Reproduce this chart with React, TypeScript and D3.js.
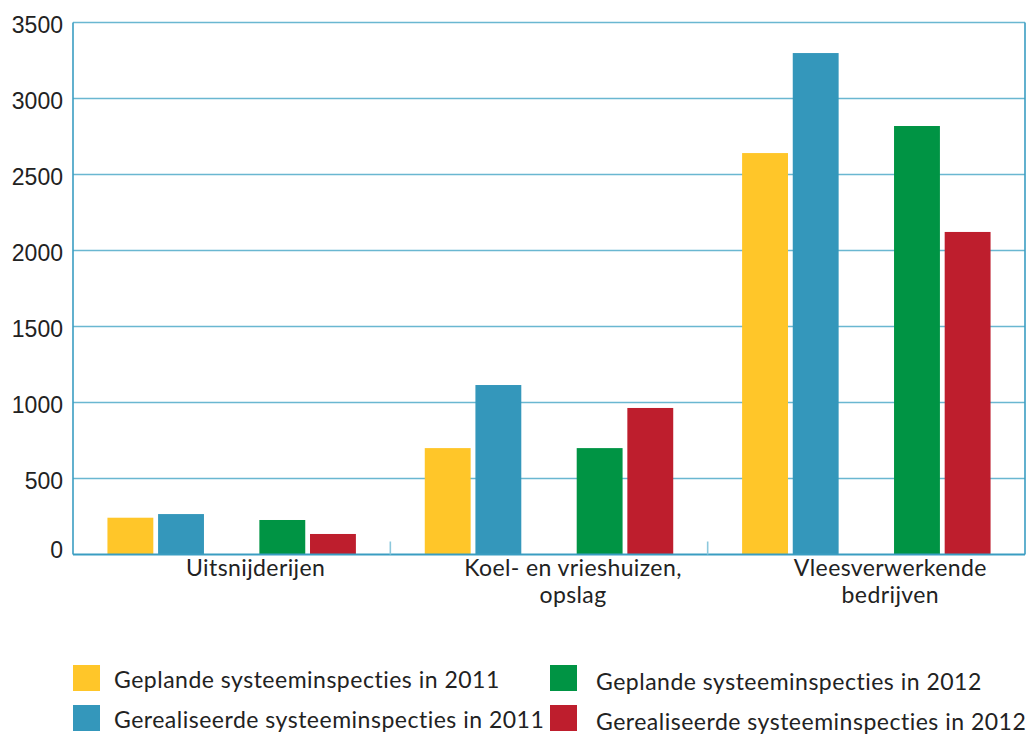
import React from "react";
import * as d3 from "d3";

const categories: string[][] = [
  ["Uitsnijderijen"],
  ["Koel- en vrieshuizen,", "opslag"],
  ["Vleesverwerkende", "bedrijven"],
];
const gepland2011 = [242, 700, 2641];
const gerealiseerd2011 = [266, 1115, 3299];
const gepland2012 = [227, 700, 2819];
const gerealiseerd2012 = [135, 964, 2122];
const yTicks = [0, 500, 1000, 1500, 2000, 2500, 3000, 3500];

const seriesNames = [
  "Geplande systeeminspecties in 2011",
  "Gerealiseerde systeeminspecties in 2011",
  "Geplande systeeminspecties in 2012",
  "Gerealiseerde systeeminspecties in 2012",
];
const seriesValues = [gepland2011, gerealiseerd2011, gepland2012, gerealiseerd2012];
const seriesColors = ["#FFC629", "#3497BB", "#009444", "#BE1E2D"];
// slot order within a group (an empty slot between 2011 and 2012)
const slotKeys = ["s0", "s1", "gap", "s2", "s3"];
const seriesSlot = ["s0", "s1", "s2", "s3"];

const W = 1028;
const H = 736;
const left = 73;
const right = 1025;
const top = 22.5;
const bottom = 554.5;

export default function App() {
  const x0 = d3
    .scaleBand<number>()
    .domain(categories.map((_, i) => i))
    .range([left, right])
    .padding(0);
  const x1 = d3
    .scaleBand<string>()
    .domain(slotKeys)
    .range([0, x0.bandwidth()])
    .paddingInner(0.094)
    .paddingOuter(0.68);
  const y = d3.scaleLinear().domain([0, 3500]).range([bottom, top]);

  const gridColor = "#6AB7D1";
  const axisColor = "#3A9DC2";
  const labelFont = "Lato, 'Noto Sans', sans-serif";

  return (
    <svg
      width={W}
      height={H}
      style={{ position: "absolute", left: 0, top: 0, background: "#fff" }}
    >
      {/* gridlines */}
      {yTicks
        .filter((t) => t > 0)
        .map((t) => (
          <line
            key={"g" + t}
            x1={left}
            x2={right}
            y1={y(t)}
            y2={y(t)}
            stroke={gridColor}
            strokeWidth={1.6}
          />
        ))}
      {/* bars */}
      {seriesValues.map((vals, si) =>
        vals.map((v, ci) => (
          <rect
            key={si + "-" + ci}
            x={(x0(ci) as number) + (x1(seriesSlot[si]) as number)}
            y={y(v)}
            width={x1.bandwidth()}
            height={y(0) - y(v)}
            fill={seriesColors[si]}
          />
        ))
      )}
      {/* axes frame */}
      <line x1={left} x2={left} y1={top} y2={bottom} stroke={axisColor} strokeWidth={1.6} />
      <line x1={right} x2={right} y1={top} y2={bottom} stroke={axisColor} strokeWidth={1.6} />
      <line x1={left} x2={right} y1={bottom} y2={bottom} stroke={axisColor} strokeWidth={2} />
      {/* group separators */}
      {categories.slice(1).map((_, i) => (
        <line
          key={"t" + i}
          x1={x0(i + 1) as number}
          x2={x0(i + 1) as number}
          y1={bottom - 13}
          y2={bottom}
          stroke="#8CC8DC"
          strokeWidth={1.6}
        />
      ))}
      {/* y tick labels */}
      {yTicks.map((t) => (
        <text
          key={"l" + t}
          x={63}
          y={y(t) + (t === 0 ? 3 : 10)}
          textAnchor="end"
          fontFamily="'Liberation Sans', Arial, sans-serif"
          fontSize={23}
          fill="#222"
        >
          {t}
        </text>
      ))}
      {/* category labels */}
      {categories.map((lines, ci) => (
        <text
          key={"c" + ci}
          x={(x0(ci) as number) + x0.bandwidth() / 2 + 24}
          y={576}
          textAnchor="middle"
          fontFamily={labelFont}
          fontSize={23}
          letterSpacing={0.4}
          fill="#222"
        >
          {lines.map((ln, li) => (
            <tspan key={li} x={(x0(ci) as number) + x0.bandwidth() / 2 + 24} dy={li === 0 ? 0 : 27}>
              {ln}
            </tspan>
          ))}
        </text>
      ))}
      {/* legend */}
      {seriesNames.map((name, si) => {
        const col = si < 2 ? 0 : 1;
        const row = si % 2;
        const sx = col === 0 ? 73 : 550;
        const sy = row === 0 ? 665 : 705;
        const tx = col === 0 ? 114 : 596;
        const ty = row === 0 ? (col === 0 ? 688 : 690) : (col === 0 ? 728 : 730);
        return (
          <g key={"lg" + si}>
            <rect x={sx} y={sy} width={27} height={26} fill={seriesColors[si]} />
            <text
              x={tx}
              y={ty}
              fontFamily={labelFont}
              fontSize={23}
              letterSpacing={0.5}
              fill="#222"
            >
              {name}
            </text>
          </g>
        );
      })}
    </svg>
  );
}
